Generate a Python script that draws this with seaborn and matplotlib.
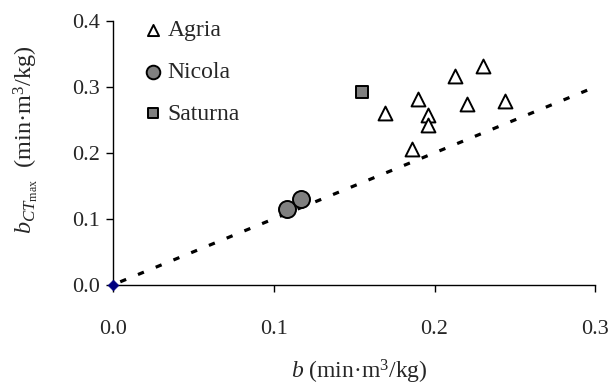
import numpy as np
import pandas as pd
import seaborn as sns
import matplotlib.pyplot as plt

# values
agria_b = [0.169, 0.186, 0.190, 0.196, 0.196, 0.213, 0.220, 0.230, 0.244]
agria_bct = [0.260, 0.206, 0.281, 0.258, 0.242, 0.317, 0.274, 0.331, 0.279]
nicola_b = [0.108, 0.117]
nicola_bct = [0.115, 0.130]
saturna_b = [0.155]
saturna_bct = [0.292]
line_b = [0.0, 0.3]
line_bct = [0.0, 0.3]
origin_b = [0.0]
origin_bct = [0.0]

xticks = [0.0, 0.1, 0.2, 0.3]
yticks = [0.0, 0.1, 0.2, 0.3, 0.4]

sns.set_style("ticks")
plt.rcParams['font.family'] = ['Liberation Serif', 'DejaVu Serif']
plt.rcParams['mathtext.fontset'] = 'custom'
plt.rcParams['mathtext.rm'] = 'Liberation Serif'
plt.rcParams['mathtext.it'] = 'Liberation Serif:italic'

fig = plt.figure(figsize=(6.1, 3.87), dpi=100)
ax = fig.add_axes([0.185, 0.264, 0.791, 0.682])

sns.lineplot(x=line_b, y=line_bct, ax=ax, color='black', lw=2.3,
             linestyle=(3.5, (2.0, 4.0)), zorder=1)

sns.scatterplot(x=agria_b, y=agria_bct, ax=ax, marker='^', s=100,
                color='white', edgecolor='black', linewidth=1.4,
                label='Agria', zorder=3)
sns.scatterplot(x=nicola_b, y=nicola_bct, ax=ax, marker='o', s=150,
                color='#808080', edgecolor='black', linewidth=1.4,
                label='Nicola', zorder=3)
sns.scatterplot(x=saturna_b, y=saturna_bct, ax=ax, marker='s', s=85,
                color='#808080', edgecolor='black', linewidth=1.4,
                label='Saturna', zorder=3)
sns.scatterplot(x=origin_b, y=origin_bct, ax=ax, marker='D', s=30,
                color='#000080', edgecolor='#000080', clip_on=False,
                zorder=4)

ax.set_xlim(0, 0.3)
ax.set_ylim(0, 0.4)
ax.set_xticks(xticks)
ax.set_yticks(yticks)
ax.set_xticklabels([f'{v:.1f}' for v in xticks])
ax.set_yticklabels([f'{v:.1f}' for v in yticks])
ax.tick_params(axis='both', labelsize=16, length=5, width=1, color='black')
ax.tick_params(axis='x', pad=20)
ax.tick_params(axis='y', pad=4)
sns.despine(ax=ax)
for sp in ['left', 'bottom']:
    ax.spines[sp].set_linewidth(1)
    ax.spines[sp].set_color('black')

ax.set_xlabel(r'$b$ (min·m$^3$/kg)', fontsize=17)
ax.xaxis.set_label_coords(0.51, -0.275)
ax.set_ylabel(r'$b_{CT_{\mathrm{max}}}$  (min·m$^3$/kg)', fontsize=17.5)
ax.yaxis.set_label_coords(-0.15, 0.55)

leg = ax.legend(loc='upper left', bbox_to_anchor=(0.04, 1.04), frameon=False,
                fontsize=17, labelspacing=0.85, handletextpad=0.1,
                handlelength=1.0, borderpad=0.4, markerscale=0.8,
                borderaxespad=0)

fig.savefig('out.png', dpi=100)
